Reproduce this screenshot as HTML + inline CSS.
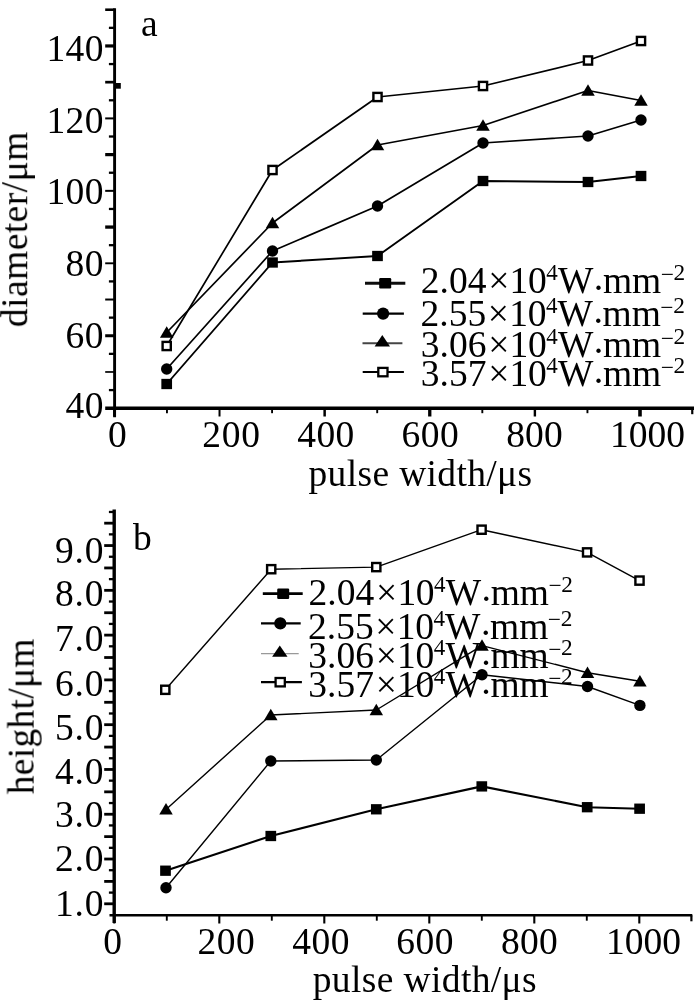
<!DOCTYPE html>
<html lang="en">
<head>
<meta charset="utf-8">
<title>Figure: diameter and height vs pulse width</title>
<style>
html,body{margin:0;padding:0;background:#fff;}
body{width:700px;height:1000px;overflow:hidden;}
svg{display:block;}
svg text{font-family:"Liberation Serif","DejaVu Serif",serif;fill:#000;}
</style>
</head>
<body>
<svg width="700" height="1000" viewBox="0 0 700 1000">
<defs><filter id="soft" x="0" y="0" width="700" height="1000" filterUnits="userSpaceOnUse"><feGaussianBlur stdDeviation="0.45"/></filter></defs>
<rect x="0" y="0" width="700" height="1000" fill="#fff"/>
<g filter="url(#soft)">
<line x1="114.6" y1="8.2" x2="114.6" y2="417.2" stroke="#000" stroke-width="2.9"/>
<line x1="105.2" y1="408.2" x2="694.0" y2="408.2" stroke="#000" stroke-width="3.5"/>
<line x1="108.9" y1="390.0875" x2="114.6" y2="390.0875" stroke="#000" stroke-width="2.3"/>
<line x1="105.2" y1="371.97499999999997" x2="114.6" y2="371.97499999999997" stroke="#000" stroke-width="1.7"/>
<line x1="108.9" y1="353.8625" x2="114.6" y2="353.8625" stroke="#000" stroke-width="2.3"/>
<line x1="105.2" y1="335.75" x2="114.6" y2="335.75" stroke="#000" stroke-width="3.0"/>
<line x1="108.9" y1="317.6375" x2="114.6" y2="317.6375" stroke="#000" stroke-width="2.3"/>
<line x1="105.2" y1="299.525" x2="114.6" y2="299.525" stroke="#000" stroke-width="2.0"/>
<line x1="108.9" y1="281.41249999999997" x2="114.6" y2="281.41249999999997" stroke="#000" stroke-width="2.3"/>
<line x1="105.2" y1="263.29999999999995" x2="114.6" y2="263.29999999999995" stroke="#000" stroke-width="1.9"/>
<line x1="108.9" y1="245.1875" x2="114.6" y2="245.1875" stroke="#000" stroke-width="2.3"/>
<line x1="105.2" y1="227.075" x2="114.6" y2="227.075" stroke="#000" stroke-width="3.3"/>
<line x1="108.9" y1="208.96249999999998" x2="114.6" y2="208.96249999999998" stroke="#000" stroke-width="2.3"/>
<line x1="105.2" y1="190.85" x2="114.6" y2="190.85" stroke="#000" stroke-width="2.0"/>
<line x1="108.9" y1="172.73749999999998" x2="114.6" y2="172.73749999999998" stroke="#000" stroke-width="2.3"/>
<line x1="105.2" y1="154.62499999999997" x2="114.6" y2="154.62499999999997" stroke="#000" stroke-width="3.2"/>
<line x1="108.9" y1="136.5125" x2="114.6" y2="136.5125" stroke="#000" stroke-width="2.3"/>
<line x1="105.2" y1="118.39999999999998" x2="114.6" y2="118.39999999999998" stroke="#000" stroke-width="2.0"/>
<line x1="108.9" y1="100.28749999999997" x2="114.6" y2="100.28749999999997" stroke="#000" stroke-width="2.3"/>
<line x1="105.2" y1="82.17500000000001" x2="114.6" y2="82.17500000000001" stroke="#000" stroke-width="2.7"/>
<line x1="108.9" y1="64.0625" x2="114.6" y2="64.0625" stroke="#000" stroke-width="2.3"/>
<line x1="105.2" y1="45.94999999999999" x2="114.6" y2="45.94999999999999" stroke="#000" stroke-width="3.2"/>
<line x1="108.9" y1="27.837499999999977" x2="114.6" y2="27.837499999999977" stroke="#000" stroke-width="2.3"/>
<line x1="105.2" y1="9.724999999999966" x2="114.6" y2="9.724999999999966" stroke="#000" stroke-width="2.6"/>
<line x1="114.4" y1="408.2" x2="114.4" y2="416.5" stroke="#000" stroke-width="2.6"/>
<line x1="166.96" y1="408.2" x2="166.96" y2="413.2" stroke="#000" stroke-width="1.9"/>
<line x1="219.51999999999998" y1="408.2" x2="219.51999999999998" y2="416.5" stroke="#000" stroke-width="2.0"/>
<line x1="272.08" y1="408.2" x2="272.08" y2="413.2" stroke="#000" stroke-width="1.9"/>
<line x1="324.64" y1="408.2" x2="324.64" y2="416.5" stroke="#000" stroke-width="2.5"/>
<line x1="377.19999999999993" y1="408.2" x2="377.19999999999993" y2="413.2" stroke="#000" stroke-width="1.9"/>
<line x1="429.76" y1="408.2" x2="429.76" y2="416.5" stroke="#000" stroke-width="3.3"/>
<line x1="482.31999999999994" y1="408.2" x2="482.31999999999994" y2="413.2" stroke="#000" stroke-width="1.9"/>
<line x1="534.88" y1="408.2" x2="534.88" y2="416.5" stroke="#000" stroke-width="2.4"/>
<line x1="587.4399999999999" y1="408.2" x2="587.4399999999999" y2="413.2" stroke="#000" stroke-width="1.9"/>
<line x1="639.9999999999999" y1="408.2" x2="639.9999999999999" y2="416.5" stroke="#000" stroke-width="3.6"/>
<line x1="692.26" y1="408.2" x2="692.26" y2="414.2" stroke="#000" stroke-width="2.2"/>
<rect x="115.5" y="83" width="5.3" height="5.7" fill="#000"/>
<text x="103.9" y="61.3" font-size="37.5" text-anchor="end" letter-spacing="0.4">140</text>
<text x="103.9" y="132.8" font-size="37.5" text-anchor="end" letter-spacing="0.4">120</text>
<text x="103.9" y="204.1" font-size="37.5" text-anchor="end" letter-spacing="0.4">100</text>
<text x="103.9" y="276.3" font-size="37.5" text-anchor="end" letter-spacing="0.4">80</text>
<text x="103.9" y="348.2" font-size="37.5" text-anchor="end" letter-spacing="0.4">60</text>
<text x="103.9" y="418.0" font-size="37.5" text-anchor="end" letter-spacing="0.4">40</text>
<text x="117.3" y="447.2" font-size="37.5" text-anchor="middle" letter-spacing="0">0</text>
<text x="231.54999999999998" y="447.2" font-size="37.5" text-anchor="middle" letter-spacing="0.7">200</text>
<text x="326.0" y="447.2" font-size="37.5" text-anchor="middle" letter-spacing="0.4">400</text>
<text x="430.25" y="447.2" font-size="37.5" text-anchor="middle" letter-spacing="0.5">600</text>
<text x="534.6" y="447.2" font-size="37.5" text-anchor="middle" letter-spacing="0.2">800</text>
<text x="647.5" y="447.2" font-size="37.5" text-anchor="middle" letter-spacing="0.0">1000</text>
<text x="308.5" y="485.5" font-size="37.5" text-anchor="start" letter-spacing="0.35">pulse width/μs</text>
<text x="141" y="36.2" font-size="37.5" text-anchor="start" >a</text>
<text transform="translate(27.2,229.2) rotate(-90)" font-size="37.5" text-anchor="middle" letter-spacing="0.45">diameter/μm</text>
<polyline points="166.7,384 272.5,262.5 377.5,256 483,181 588,182 641,176" fill="none" stroke="#000" stroke-width="1.9" stroke-linejoin="round"/>
<rect x="161.35" y="378.85" width="10.7" height="10.3" fill="#000"/>
<rect x="267.15" y="257.35" width="10.7" height="10.3" fill="#000"/>
<rect x="372.15" y="250.85" width="10.7" height="10.3" fill="#000"/>
<rect x="477.65" y="175.85" width="10.7" height="10.3" fill="#000"/>
<rect x="582.65" y="176.85" width="10.7" height="10.3" fill="#000"/>
<rect x="635.65" y="170.85" width="10.7" height="10.3" fill="#000"/>
<polyline points="166.7,369 272.5,251 377.5,206 483,143 588,136 641,120" fill="none" stroke="#000" stroke-width="1.7" stroke-linejoin="round"/>
<circle cx="166.7" cy="369" r="5.7" fill="#000"/>
<circle cx="272.5" cy="251" r="5.7" fill="#000"/>
<circle cx="377.5" cy="206" r="5.7" fill="#000"/>
<circle cx="483" cy="143" r="5.7" fill="#000"/>
<circle cx="588" cy="136" r="5.7" fill="#000"/>
<circle cx="641" cy="120" r="5.7" fill="#000"/>
<polyline points="166.7,332.5 272.5,223 377.5,145 483,125.5 588,90.5 641,100.5" fill="none" stroke="#000" stroke-width="1.7" stroke-linejoin="round"/>
<polygon points="166.70,326.18 173.45,337.68 159.95,337.68" fill="#000"/>
<polygon points="272.50,216.68 279.25,228.18 265.75,228.18" fill="#000"/>
<polygon points="377.50,138.68 384.25,150.18 370.75,150.18" fill="#000"/>
<polygon points="483.00,119.17 489.75,130.68 476.25,130.68" fill="#000"/>
<polygon points="588.00,84.17 594.75,95.67 581.25,95.67" fill="#000"/>
<polygon points="641.00,94.17 647.75,105.67 634.25,105.67" fill="#000"/>
<polyline points="166.7,346 272.5,170 377.5,97 483,86 588,60.5 641,41" fill="none" stroke="#000" stroke-width="1.7" stroke-linejoin="round"/>
<rect x="162.60" y="341.90" width="8.2" height="8.2" fill="#fff" stroke="#000" stroke-width="2.4"/>
<rect x="268.40" y="165.90" width="8.2" height="8.2" fill="#fff" stroke="#000" stroke-width="2.4"/>
<rect x="373.40" y="92.90" width="8.2" height="8.2" fill="#fff" stroke="#000" stroke-width="2.4"/>
<rect x="478.90" y="81.90" width="8.2" height="8.2" fill="#fff" stroke="#000" stroke-width="2.4"/>
<rect x="583.90" y="56.40" width="8.2" height="8.2" fill="#fff" stroke="#000" stroke-width="2.4"/>
<rect x="636.90" y="36.90" width="8.2" height="8.2" fill="#fff" stroke="#000" stroke-width="2.4"/>
<line x1="365.0" y1="283.2" x2="405.3" y2="283.2" stroke="#111" stroke-width="3.0"/>
<rect x="379.20" y="278.00" width="12" height="10.4" rx="1.2" fill="#000"/>
<text x="420.8" y="293.2" font-size="37.5">2.04<tspan dx="1.7">×</tspan><tspan dx="0.3">1</tspan><tspan dx="-0.3">0</tspan><tspan font-size="23" dx="-0.6" dy="-13">4</tspan><tspan dx="0.2" dy="13">W</tspan><tspan dx="-1.0" dy="6.5">·</tspan><tspan dx="-1.9" dy="-6.5">mm</tspan><tspan font-size="23.3" dx="-0.6" dy="-11.3">−</tspan><tspan font-size="23.3" dx="-0.2" dy="-1.7">2</tspan></text>
<line x1="362.7" y1="313.6" x2="403.9" y2="313.6" stroke="#000" stroke-width="2.3"/>
<circle cx="383.1" cy="313.6" r="6.1" fill="#000"/>
<text x="420.5" y="326.2" font-size="37.5">2.55<tspan dx="1.7">×</tspan><tspan dx="0.3">1</tspan><tspan dx="-0.3">0</tspan><tspan font-size="23" dx="-0.6" dy="-13">4</tspan><tspan dx="0.2" dy="13">W</tspan><tspan dx="-1.0" dy="6.5">·</tspan><tspan dx="-1.9" dy="-6.5">mm</tspan><tspan font-size="23.3" dx="-0.6" dy="-11.3">−</tspan><tspan font-size="23.3" dx="-0.2" dy="-1.7">2</tspan></text>
<line x1="362.5" y1="343.3" x2="402.4" y2="343.3" stroke="#444" stroke-width="2.0"/>
<polygon points="382.30,335.10 390.00,346.40 374.60,346.40" fill="#000"/>
<text x="420.8" y="356.9" font-size="37.5">3.06<tspan dx="1.7">×</tspan><tspan dx="0.3">1</tspan><tspan dx="-0.3">0</tspan><tspan font-size="23" dx="-0.6" dy="-13">4</tspan><tspan dx="0.2" dy="13">W</tspan><tspan dx="-1.0" dy="6.5">·</tspan><tspan dx="-1.9" dy="-6.5">mm</tspan><tspan font-size="23.3" dx="-0.6" dy="-11.3">−</tspan><tspan font-size="23.3" dx="-0.2" dy="-1.7">2</tspan></text>
<line x1="362.7" y1="372.1" x2="403.9" y2="372.1" stroke="#000" stroke-width="2.0"/>
<rect x="378.30" y="367.90" width="9.2" height="8.4" fill="#fff" stroke="#000" stroke-width="2.3"/>
<text x="420.8" y="386.4" font-size="37.5">3.57<tspan dx="1.7">×</tspan><tspan dx="0.3">1</tspan><tspan dx="-0.3">0</tspan><tspan font-size="23" dx="-0.6" dy="-13">4</tspan><tspan dx="0.2" dy="13">W</tspan><tspan dx="-1.0" dy="6.5">·</tspan><tspan dx="-1.9" dy="-6.5">mm</tspan><tspan font-size="23.3" dx="-0.6" dy="-11.3">−</tspan><tspan font-size="23.3" dx="-0.2" dy="-1.7">2</tspan></text>
<line x1="114.2" y1="509.4" x2="114.2" y2="922.9" stroke="#000" stroke-width="3.4"/>
<line x1="109.5" y1="915.3" x2="692.3" y2="915.3" stroke="#000" stroke-width="2.4"/>
<line x1="104.2" y1="903.8" x2="114.2" y2="903.8" stroke="#000" stroke-width="2.8"/>
<line x1="108.9" y1="892.6049999999999" x2="114.2" y2="892.6049999999999" stroke="#000" stroke-width="2.3"/>
<line x1="104.2" y1="881.41" x2="114.2" y2="881.41" stroke="#000" stroke-width="2.8"/>
<line x1="108.9" y1="870.2149999999999" x2="114.2" y2="870.2149999999999" stroke="#000" stroke-width="2.3"/>
<line x1="104.2" y1="859.02" x2="114.2" y2="859.02" stroke="#000" stroke-width="2.8"/>
<line x1="108.9" y1="847.8249999999999" x2="114.2" y2="847.8249999999999" stroke="#000" stroke-width="2.3"/>
<line x1="104.2" y1="836.63" x2="114.2" y2="836.63" stroke="#000" stroke-width="2.8"/>
<line x1="108.9" y1="825.435" x2="114.2" y2="825.435" stroke="#000" stroke-width="2.3"/>
<line x1="104.2" y1="814.24" x2="114.2" y2="814.24" stroke="#000" stroke-width="2.8"/>
<line x1="108.9" y1="803.045" x2="114.2" y2="803.045" stroke="#000" stroke-width="2.3"/>
<line x1="104.2" y1="791.8499999999999" x2="114.2" y2="791.8499999999999" stroke="#000" stroke-width="2.8"/>
<line x1="108.9" y1="780.655" x2="114.2" y2="780.655" stroke="#000" stroke-width="2.3"/>
<line x1="104.2" y1="769.4599999999999" x2="114.2" y2="769.4599999999999" stroke="#000" stroke-width="2.8"/>
<line x1="108.9" y1="758.265" x2="114.2" y2="758.265" stroke="#000" stroke-width="2.3"/>
<line x1="104.2" y1="747.0699999999999" x2="114.2" y2="747.0699999999999" stroke="#000" stroke-width="2.8"/>
<line x1="108.9" y1="735.875" x2="114.2" y2="735.875" stroke="#000" stroke-width="2.3"/>
<line x1="104.2" y1="724.68" x2="114.2" y2="724.68" stroke="#000" stroke-width="2.8"/>
<line x1="108.9" y1="713.4849999999999" x2="114.2" y2="713.4849999999999" stroke="#000" stroke-width="2.3"/>
<line x1="104.2" y1="702.29" x2="114.2" y2="702.29" stroke="#000" stroke-width="2.8"/>
<line x1="108.9" y1="691.0949999999999" x2="114.2" y2="691.0949999999999" stroke="#000" stroke-width="2.3"/>
<line x1="104.2" y1="679.9" x2="114.2" y2="679.9" stroke="#000" stroke-width="2.8"/>
<line x1="108.9" y1="668.7049999999999" x2="114.2" y2="668.7049999999999" stroke="#000" stroke-width="2.3"/>
<line x1="104.2" y1="657.51" x2="114.2" y2="657.51" stroke="#000" stroke-width="2.8"/>
<line x1="108.9" y1="646.3149999999999" x2="114.2" y2="646.3149999999999" stroke="#000" stroke-width="2.3"/>
<line x1="104.2" y1="635.1199999999999" x2="114.2" y2="635.1199999999999" stroke="#000" stroke-width="2.8"/>
<line x1="108.9" y1="623.925" x2="114.2" y2="623.925" stroke="#000" stroke-width="2.3"/>
<line x1="104.2" y1="612.73" x2="114.2" y2="612.73" stroke="#000" stroke-width="2.8"/>
<line x1="108.9" y1="601.535" x2="114.2" y2="601.535" stroke="#000" stroke-width="2.3"/>
<line x1="104.2" y1="590.3399999999999" x2="114.2" y2="590.3399999999999" stroke="#000" stroke-width="2.8"/>
<line x1="108.9" y1="579.145" x2="114.2" y2="579.145" stroke="#000" stroke-width="2.3"/>
<line x1="104.2" y1="567.9499999999999" x2="114.2" y2="567.9499999999999" stroke="#000" stroke-width="2.8"/>
<line x1="108.9" y1="556.7549999999999" x2="114.2" y2="556.7549999999999" stroke="#000" stroke-width="2.3"/>
<line x1="104.2" y1="545.56" x2="114.2" y2="545.56" stroke="#000" stroke-width="2.8"/>
<line x1="108.9" y1="534.365" x2="114.2" y2="534.365" stroke="#000" stroke-width="2.3"/>
<line x1="104.2" y1="523.17" x2="114.2" y2="523.17" stroke="#000" stroke-width="2.8"/>
<line x1="108.9" y1="511.97499999999997" x2="114.2" y2="511.97499999999997" stroke="#000" stroke-width="2.3"/>
<line x1="114.3" y1="915.3" x2="114.3" y2="923.5" stroke="#000" stroke-width="2.1"/>
<line x1="166.8" y1="915.3" x2="166.8" y2="920.6999999999999" stroke="#000" stroke-width="1.9"/>
<line x1="219.3" y1="915.3" x2="219.3" y2="923.5" stroke="#000" stroke-width="2.1"/>
<line x1="271.8" y1="915.3" x2="271.8" y2="920.6999999999999" stroke="#000" stroke-width="1.9"/>
<line x1="324.3" y1="915.3" x2="324.3" y2="923.5" stroke="#000" stroke-width="2.1"/>
<line x1="376.8" y1="915.3" x2="376.8" y2="920.6999999999999" stroke="#000" stroke-width="1.9"/>
<line x1="429.3" y1="915.3" x2="429.3" y2="923.5" stroke="#000" stroke-width="2.1"/>
<line x1="481.8" y1="915.3" x2="481.8" y2="920.6999999999999" stroke="#000" stroke-width="1.9"/>
<line x1="534.3" y1="915.3" x2="534.3" y2="923.5" stroke="#000" stroke-width="2.1"/>
<line x1="586.8" y1="915.3" x2="586.8" y2="920.6999999999999" stroke="#000" stroke-width="1.9"/>
<line x1="639.3" y1="915.3" x2="639.3" y2="923.5" stroke="#000" stroke-width="2.1"/>
<line x1="691.4" y1="915.3" x2="691.4" y2="921.3" stroke="#000" stroke-width="2.2"/>
<text x="104.2" y="562.5" font-size="37.5" text-anchor="end" letter-spacing="0.8">9.0</text>
<text x="104.2" y="606.3" font-size="37.5" text-anchor="end" letter-spacing="0.8">8.0</text>
<text x="104.2" y="651.3" font-size="37.5" text-anchor="end" letter-spacing="0.8">7.0</text>
<text x="104.2" y="695.8" font-size="37.5" text-anchor="end" letter-spacing="0.8">6.0</text>
<text x="104.2" y="740.0" font-size="37.5" text-anchor="end" letter-spacing="0.8">5.0</text>
<text x="104.2" y="783.8" font-size="37.5" text-anchor="end" letter-spacing="0.8">4.0</text>
<text x="104.2" y="827.0" font-size="37.5" text-anchor="end" letter-spacing="0.8">3.0</text>
<text x="104.2" y="871.3" font-size="37.5" text-anchor="end" letter-spacing="0.8">2.0</text>
<text x="104.2" y="915.5" font-size="37.5" text-anchor="end" letter-spacing="0.8">1.0</text>
<text x="112.6" y="953.8" font-size="37.5" text-anchor="middle" letter-spacing="0">0</text>
<text x="226.25" y="953.8" font-size="37.5" text-anchor="middle" letter-spacing="0.5">200</text>
<text x="321.05" y="953.8" font-size="37.5" text-anchor="middle" letter-spacing="0.5">400</text>
<text x="425.05" y="953.8" font-size="37.5" text-anchor="middle" letter-spacing="0.5">600</text>
<text x="529.5" y="953.8" font-size="37.5" text-anchor="middle" letter-spacing="0.2">800</text>
<text x="643.6" y="953.8" font-size="37.5" text-anchor="middle" letter-spacing="0.0">1000</text>
<text x="312.7" y="991.5" font-size="37.5" text-anchor="start" letter-spacing="0.38">pulse width/μs</text>
<text x="133.1" y="550.2" font-size="37.5" text-anchor="start" >b</text>
<text transform="translate(33.6,716.3) rotate(-90)" font-size="37.5" text-anchor="middle" letter-spacing="0.3">height/μm</text>
<polyline points="165.5,870.7 270.8,836 376.3,809.3 481.8,786.4 587.2,807.2 639.6,808.7" fill="none" stroke="#000" stroke-width="2.1" stroke-linejoin="round"/>
<rect x="160.15" y="865.55" width="10.7" height="10.3" fill="#000"/>
<rect x="265.45" y="830.85" width="10.7" height="10.3" fill="#000"/>
<rect x="370.95" y="804.15" width="10.7" height="10.3" fill="#000"/>
<rect x="476.45" y="781.25" width="10.7" height="10.3" fill="#000"/>
<rect x="581.85" y="802.05" width="10.7" height="10.3" fill="#000"/>
<rect x="634.25" y="803.55" width="10.7" height="10.3" fill="#000"/>
<polyline points="166,887.7 270.8,761 376.3,760 482,674.8 587.5,686.5 639.9,705.4" fill="none" stroke="#000" stroke-width="1.4" stroke-linejoin="round"/>
<circle cx="166" cy="887.7" r="5.7" fill="#000"/>
<circle cx="270.8" cy="761" r="5.7" fill="#000"/>
<circle cx="376.3" cy="760" r="5.7" fill="#000"/>
<circle cx="482" cy="674.8" r="5.7" fill="#000"/>
<circle cx="587.5" cy="686.5" r="5.7" fill="#000"/>
<circle cx="639.9" cy="705.4" r="5.7" fill="#000"/>
<polyline points="166,809.4 270.8,715 376.3,710.0 482,645.6 587.5,672.7 639.9,681.3" fill="none" stroke="#000" stroke-width="1.4" stroke-linejoin="round"/>
<polygon points="166.00,803.07 172.75,814.57 159.25,814.57" fill="#000"/>
<polygon points="270.80,708.67 277.55,720.17 264.05,720.17" fill="#000"/>
<polygon points="376.30,703.67 383.05,715.17 369.55,715.17" fill="#000"/>
<polygon points="482.00,639.27 488.75,650.77 475.25,650.77" fill="#000"/>
<polygon points="587.50,666.38 594.25,677.88 580.75,677.88" fill="#000"/>
<polygon points="639.90,674.97 646.65,686.47 633.15,686.47" fill="#000"/>
<polyline points="165.3,689.8 271.2,569.2 376.3,567.1 481.6,529.7 587.1,552.4 639.5,580.6" fill="none" stroke="#000" stroke-width="1.4" stroke-linejoin="round"/>
<rect x="161.20" y="685.70" width="8.2" height="8.2" fill="#fff" stroke="#000" stroke-width="2.4"/>
<rect x="267.10" y="565.10" width="8.2" height="8.2" fill="#fff" stroke="#000" stroke-width="2.4"/>
<rect x="372.20" y="563.00" width="8.2" height="8.2" fill="#fff" stroke="#000" stroke-width="2.4"/>
<rect x="477.50" y="525.60" width="8.2" height="8.2" fill="#fff" stroke="#000" stroke-width="2.4"/>
<rect x="583.00" y="548.30" width="8.2" height="8.2" fill="#fff" stroke="#000" stroke-width="2.4"/>
<rect x="635.40" y="576.50" width="8.2" height="8.2" fill="#fff" stroke="#000" stroke-width="2.4"/>
<line x1="262.8" y1="593.7" x2="302.7" y2="593.7" stroke="#000" stroke-width="2.8"/>
<rect x="277.20" y="588.50" width="12" height="10.4" rx="1.2" fill="#000"/>
<text x="308.6" y="604.5" font-size="37.5">2.04<tspan dx="1.7">×</tspan><tspan dx="0.3">1</tspan><tspan dx="-0.3">0</tspan><tspan font-size="23" dx="-0.6" dy="-13">4</tspan><tspan dx="0.2" dy="13">W</tspan><tspan dx="-1.0" dy="6.5">·</tspan><tspan dx="-1.9" dy="-6.5">mm</tspan><tspan font-size="23.3" dx="-0.6" dy="-11.3">−</tspan><tspan font-size="23.3" dx="-0.2" dy="-1.7">2</tspan></text>
<line x1="261.0" y1="623.4" x2="300.7" y2="623.4" stroke="#000" stroke-width="2.4"/>
<circle cx="280.3" cy="623.4" r="6.1" fill="#000"/>
<text x="308.0" y="638.7" font-size="37.5">2.55<tspan dx="1.7">×</tspan><tspan dx="0.3">1</tspan><tspan dx="-0.3">0</tspan><tspan font-size="23" dx="-0.6" dy="-13">4</tspan><tspan dx="0.2" dy="13">W</tspan><tspan dx="-1.0" dy="6.5">·</tspan><tspan dx="-1.9" dy="-6.5">mm</tspan><tspan font-size="23.3" dx="-0.6" dy="-11.3">−</tspan><tspan font-size="23.3" dx="-0.2" dy="-1.7">2</tspan></text>
<line x1="261.0" y1="653.7" x2="298.7" y2="653.7" stroke="#999" stroke-width="1.2"/>
<polygon points="279.80,645.50 287.50,656.80 272.10,656.80" fill="#000"/>
<text x="308.3" y="668.2" font-size="37.5">3.06<tspan dx="1.7">×</tspan><tspan dx="0.3">1</tspan><tspan dx="-0.3">0</tspan><tspan font-size="23" dx="-0.6" dy="-13">4</tspan><tspan dx="0.2" dy="13">W</tspan><tspan dx="-1.0" dy="6.5">·</tspan><tspan dx="-1.9" dy="-6.5">mm</tspan><tspan font-size="23.3" dx="-0.6" dy="-11.3">−</tspan><tspan font-size="23.3" dx="-0.2" dy="-1.7">2</tspan></text>
<line x1="261.0" y1="682.2" x2="301.9" y2="682.2" stroke="#000" stroke-width="2.2"/>
<rect x="275.60" y="678.00" width="9.2" height="8.4" fill="#fff" stroke="#000" stroke-width="2.3"/>
<text x="308.3" y="697.0" font-size="37.5">3.57<tspan dx="1.7">×</tspan><tspan dx="0.3">1</tspan><tspan dx="-0.3">0</tspan><tspan font-size="23" dx="-0.6" dy="-13">4</tspan><tspan dx="0.2" dy="13">W</tspan><tspan dx="-1.0" dy="6.5">·</tspan><tspan dx="-1.9" dy="-6.5">mm</tspan><tspan font-size="23.3" dx="-0.6" dy="-11.3">−</tspan><tspan font-size="23.3" dx="-0.2" dy="-1.7">2</tspan></text>
</g>
</svg>
</body>
</html>
